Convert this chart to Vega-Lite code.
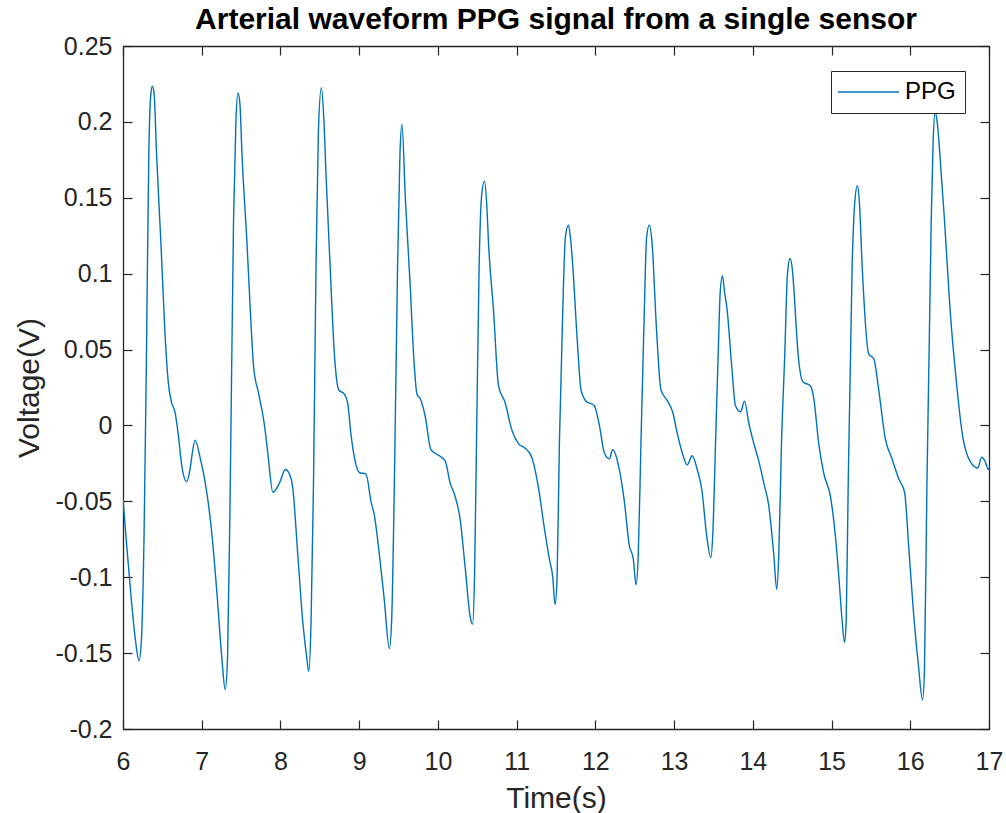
{
  "$schema": "https://vega.github.io/schema/vega-lite/v6.json",
  "width": 866,
  "height": 683,
  "autosize": {"type": "none"},
  "padding": {"left": 123, "top": 46, "right": 17, "bottom": 84},
  "background": "white",
  "config": {"font": "Liberation Sans", "view": {"stroke": null}},
  "title": {
    "text": "Arterial waveform PPG signal from a single sensor",
    "font": "Liberation Sans",
    "fontSize": 30,
    "fontWeight": "bold",
    "color": "black",
    "anchor": "middle",
    "baseline": "middle",
    "frame": "group",
    "offset": 26,
    "dy": 42
  },
  "data": {
    "values": [
      {"t": 6.000, "v": -0.0485}, {"t": 6.043, "v": -0.0765}, {"t": 6.106, "v": -0.115}, {"t": 6.157, "v": -0.141},
      {"t": 6.204, "v": -0.155}, {"t": 6.234, "v": -0.141}, {"t": 6.268, "v": -0.0706}, {"t": 6.298, "v": 0.047},
      {"t": 6.328, "v": 0.179}, {"t": 6.353, "v": 0.218}, {"t": 6.374, "v": 0.2235}, {"t": 6.396, "v": 0.218},
      {"t": 6.426, "v": 0.179}, {"t": 6.481, "v": 0.121}, {"t": 6.532, "v": 0.062}, {"t": 6.574, "v": 0.029},
      {"t": 6.617, "v": 0.015}, {"t": 6.660, "v": 0.009}, {"t": 6.702, "v": -0.006}, {"t": 6.745, "v": -0.026},
      {"t": 6.809, "v": -0.037}, {"t": 6.851, "v": -0.029}, {"t": 6.881, "v": -0.018}, {"t": 6.915, "v": -0.0097},
      {"t": 6.979, "v": -0.021}, {"t": 7.064, "v": -0.044}, {"t": 7.128, "v": -0.071}, {"t": 7.191, "v": -0.109},
      {"t": 7.255, "v": -0.153}, {"t": 7.298, "v": -0.174}, {"t": 7.328, "v": -0.153}, {"t": 7.362, "v": -0.041},
      {"t": 7.404, "v": 0.135}, {"t": 7.434, "v": 0.200}, {"t": 7.460, "v": 0.219}, {"t": 7.485, "v": 0.212},
      {"t": 7.511, "v": 0.179}, {"t": 7.574, "v": 0.121}, {"t": 7.617, "v": 0.076}, {"t": 7.660, "v": 0.038},
      {"t": 7.723, "v": 0.021}, {"t": 7.797, "v": 0.000}, {"t": 7.839, "v": -0.018}, {"t": 7.903, "v": -0.044},
      {"t": 7.987, "v": -0.038}, {"t": 8.063, "v": -0.029}, {"t": 8.114, "v": -0.032}, {"t": 8.156, "v": -0.041},
      {"t": 8.220, "v": -0.085}, {"t": 8.283, "v": -0.129}, {"t": 8.334, "v": -0.153}, {"t": 8.359, "v": -0.162},
      {"t": 8.389, "v": -0.129}, {"t": 8.419, "v": -0.041}, {"t": 8.452, "v": 0.106}, {"t": 8.482, "v": 0.194},
      {"t": 8.520, "v": 0.2226}, {"t": 8.550, "v": 0.203}, {"t": 8.579, "v": 0.165}, {"t": 8.630, "v": 0.106},
      {"t": 8.685, "v": 0.047}, {"t": 8.740, "v": 0.0235}, {"t": 8.812, "v": 0.0206}, {"t": 8.854, "v": 0.0147},
      {"t": 8.896, "v": -0.006}, {"t": 8.960, "v": -0.026}, {"t": 9.002, "v": -0.031}, {"t": 9.087, "v": -0.032},
      {"t": 9.150, "v": -0.050}, {"t": 9.192, "v": -0.059}, {"t": 9.256, "v": -0.085}, {"t": 9.319, "v": -0.115},
      {"t": 9.383, "v": -0.147}, {"t": 9.412, "v": -0.129}, {"t": 9.446, "v": -0.041}, {"t": 9.488, "v": 0.106},
      {"t": 9.518, "v": 0.179}, {"t": 9.543, "v": 0.1985}, {"t": 9.586, "v": 0.150}, {"t": 9.649, "v": 0.091},
      {"t": 9.691, "v": 0.047}, {"t": 9.734, "v": 0.0206}, {"t": 9.776, "v": 0.0176}, {"t": 9.839, "v": 0.0059},
      {"t": 9.911, "v": -0.016}, {"t": 9.987, "v": -0.019}, {"t": 10.093, "v": -0.0235}, {"t": 10.156, "v": -0.038},
      {"t": 10.220, "v": -0.047}, {"t": 10.283, "v": -0.062}, {"t": 10.347, "v": -0.094}, {"t": 10.410, "v": -0.126},
      {"t": 10.440, "v": -0.131}, {"t": 10.465, "v": -0.100}, {"t": 10.490, "v": -0.012}, {"t": 10.524, "v": 0.106},
      {"t": 10.558, "v": 0.153}, {"t": 10.592, "v": 0.161}, {"t": 10.622, "v": 0.144}, {"t": 10.643, "v": 0.120},
      {"t": 10.706, "v": 0.076}, {"t": 10.770, "v": 0.026}, {"t": 10.854, "v": 0.015}, {"t": 10.939, "v": -0.003},
      {"t": 11.023, "v": -0.012}, {"t": 11.108, "v": -0.015}, {"t": 11.192, "v": -0.021}, {"t": 11.277, "v": -0.041},
      {"t": 11.353, "v": -0.068}, {"t": 11.416, "v": -0.088}, {"t": 11.459, "v": -0.100}, {"t": 11.488, "v": -0.118},
      {"t": 11.514, "v": -0.100}, {"t": 11.543, "v": -0.012}, {"t": 11.586, "v": 0.076}, {"t": 11.619, "v": 0.124},
      {"t": 11.658, "v": 0.132}, {"t": 11.683, "v": 0.124}, {"t": 11.712, "v": 0.106}, {"t": 11.763, "v": 0.062},
      {"t": 11.818, "v": 0.0235}, {"t": 11.882, "v": 0.016}, {"t": 11.987, "v": 0.013}, {"t": 12.051, "v": 0.000},
      {"t": 12.114, "v": -0.018}, {"t": 12.178, "v": -0.022}, {"t": 12.220, "v": -0.016}, {"t": 12.304, "v": -0.029},
      {"t": 12.368, "v": -0.050}, {"t": 12.431, "v": -0.079}, {"t": 12.482, "v": -0.088}, {"t": 12.516, "v": -0.105},
      {"t": 12.545, "v": -0.085}, {"t": 12.579, "v": -0.012}, {"t": 12.622, "v": 0.076}, {"t": 12.651, "v": 0.124},
      {"t": 12.685, "v": 0.132}, {"t": 12.719, "v": 0.121}, {"t": 12.778, "v": 0.062}, {"t": 12.833, "v": 0.0235},
      {"t": 12.918, "v": 0.016}, {"t": 12.981, "v": 0.009}, {"t": 13.044, "v": -0.006}, {"t": 13.104, "v": -0.018},
      {"t": 13.167, "v": -0.026}, {"t": 13.230, "v": -0.020}, {"t": 13.294, "v": -0.029}, {"t": 13.357, "v": -0.044},
      {"t": 13.408, "v": -0.070}, {"t": 13.467, "v": -0.087}, {"t": 13.493, "v": -0.070}, {"t": 13.526, "v": -0.012},
      {"t": 13.560, "v": 0.047}, {"t": 13.586, "v": 0.088}, {"t": 13.615, "v": 0.0985}, {"t": 13.641, "v": 0.088},
      {"t": 13.674, "v": 0.076}, {"t": 13.729, "v": 0.041}, {"t": 13.780, "v": 0.013}, {"t": 13.844, "v": 0.009},
      {"t": 13.894, "v": 0.016}, {"t": 13.949, "v": 0.0015}, {"t": 14.013, "v": -0.012}, {"t": 14.076, "v": -0.0235},
      {"t": 14.140, "v": -0.038}, {"t": 14.203, "v": -0.053}, {"t": 14.266, "v": -0.085}, {"t": 14.304, "v": -0.108},
      {"t": 14.330, "v": -0.085}, {"t": 14.364, "v": -0.012}, {"t": 14.406, "v": 0.047}, {"t": 14.440, "v": 0.100},
      {"t": 14.474, "v": 0.110}, {"t": 14.507, "v": 0.100}, {"t": 14.520, "v": 0.091}, {"t": 14.575, "v": 0.047},
      {"t": 14.634, "v": 0.029}, {"t": 14.732, "v": 0.026}, {"t": 14.774, "v": 0.018}, {"t": 14.837, "v": -0.012},
      {"t": 14.903, "v": -0.032}, {"t": 14.987, "v": -0.047}, {"t": 15.051, "v": -0.074}, {"t": 15.093, "v": -0.100},
      {"t": 15.135, "v": -0.129}, {"t": 15.165, "v": -0.143}, {"t": 15.186, "v": -0.129}, {"t": 15.211, "v": -0.041},
      {"t": 15.262, "v": 0.106}, {"t": 15.295, "v": 0.147}, {"t": 15.329, "v": 0.158}, {"t": 15.354, "v": 0.147},
      {"t": 15.388, "v": 0.106}, {"t": 15.473, "v": 0.047}, {"t": 15.536, "v": 0.044}, {"t": 15.599, "v": 0.0235},
      {"t": 15.684, "v": -0.009}, {"t": 15.768, "v": -0.022}, {"t": 15.852, "v": -0.035}, {"t": 15.928, "v": -0.044},
      {"t": 15.979, "v": -0.079}, {"t": 16.042, "v": -0.124}, {"t": 16.105, "v": -0.159}, {"t": 16.156, "v": -0.181},
      {"t": 16.181, "v": -0.159}, {"t": 16.211, "v": -0.041}, {"t": 16.266, "v": 0.135}, {"t": 16.291, "v": 0.188},
      {"t": 16.316, "v": 0.206}, {"t": 16.342, "v": 0.200}, {"t": 16.367, "v": 0.185}, {"t": 16.435, "v": 0.135},
      {"t": 16.506, "v": 0.076}, {"t": 16.591, "v": 0.026}, {"t": 16.662, "v": -0.006}, {"t": 16.759, "v": -0.0235},
      {"t": 16.857, "v": -0.028}, {"t": 16.907, "v": -0.021}, {"t": 16.949, "v": -0.0235}, {"t": 16.992, "v": -0.029},
      {"t": 17.000, "v": -0.028}
    ]
  },
  "layer": [
    {
      "mark": {"type": "line", "strokeWidth": 1.4, "clip": true, "interpolate": "monotone"},
      "encoding": {
        "x": {
          "field": "t", "type": "quantitative",
          "scale": {"domain": [6, 17], "nice": false, "zero": false},
          "axis": {
            "orient": "bottom", "values": [6, 7, 8, 9, 10, 11, 12, 13, 14, 15, 16, 17],
            "grid": false, "tickSize": -9, "tickWidth": 1.2, "tickColor": "#262626",
            "domainColor": "#262626", "domainWidth": 1.3, "labelFlush": false, "labelOverlap": false,
            "labelFontSize": 25, "labelColor": "#262626", "labelPadding": 29, "labelFont": "Liberation Sans",
            "title": "Time(s)", "titleFontSize": 30, "titleFontWeight": "normal", "titleColor": "#262626",
            "titleFont": "Liberation Sans", "titleBaseline": "middle", "titleY": 69
          }
        },
        "y": {
          "field": "v", "type": "quantitative",
          "scale": {"domain": [-0.2, 0.25], "nice": false, "zero": false},
          "axis": {
            "orient": "left", "values": [-0.2, -0.15, -0.1, -0.05, 0, 0.05, 0.1, 0.15, 0.2, 0.25],
            "labelExpr": "toString(datum.value)", "labelFlush": false, "labelOverlap": false,
            "grid": false, "tickSize": -9, "tickWidth": 1.2, "tickColor": "#262626",
            "domainColor": "#262626", "domainWidth": 1.3,
            "labelFontSize": 25, "labelColor": "#262626", "labelPadding": 20, "labelFont": "Liberation Sans",
            "title": "Voltage(V)", "titleFontSize": 30, "titleFontWeight": "normal", "titleColor": "#262626",
            "titleFont": "Liberation Sans", "titleBaseline": "middle", "titleX": -94, "titleAngle": -90
          }
        },
        "color": {
          "datum": "PPG", "type": "nominal",
          "scale": {"range": ["#0072BD"]},
          "legend": {
            "title": null, "orient": "none", "legendX": 708, "legendY": 25,
            "fillColor": "white", "strokeColor": "#262626", "padding": 9, "cornerRadius": 0,
            "symbolType": "M-2.8,0H9.4", "symbolSize": 100, "symbolStrokeWidth": 1.4,
            "labelFontSize": 24, "labelOffset": 41, "labelColor": "black", "labelFont": "Liberation Sans"
          }
        }
      }
    },
    {
      "mark": {"type": "line", "opacity": 0},
      "encoding": {
        "x": {
          "field": "t", "type": "quantitative",
          "scale": {"domain": [6, 17], "nice": false, "zero": false},
          "axis": {
            "orient": "top", "values": [6, 7, 8, 9, 10, 11, 12, 13, 14, 15, 16, 17],
            "labels": false, "title": null, "grid": false, "tickSize": -9, "tickWidth": 1.2,
            "tickColor": "#262626", "domainColor": "#262626", "domainWidth": 1.3
          }
        },
        "y": {
          "field": "v", "type": "quantitative",
          "scale": {"domain": [-0.2, 0.25], "nice": false, "zero": false},
          "axis": {
            "orient": "right", "values": [-0.2, -0.15, -0.1, -0.05, 0, 0.05, 0.1, 0.15, 0.2, 0.25],
            "labels": false, "title": null, "grid": false, "tickSize": -9, "tickWidth": 1.2,
            "tickColor": "#262626", "domainColor": "#262626", "domainWidth": 1.3
          }
        }
      }
    }
  ],
  "resolve": {"axis": {"x": "independent", "y": "independent"}}
}
